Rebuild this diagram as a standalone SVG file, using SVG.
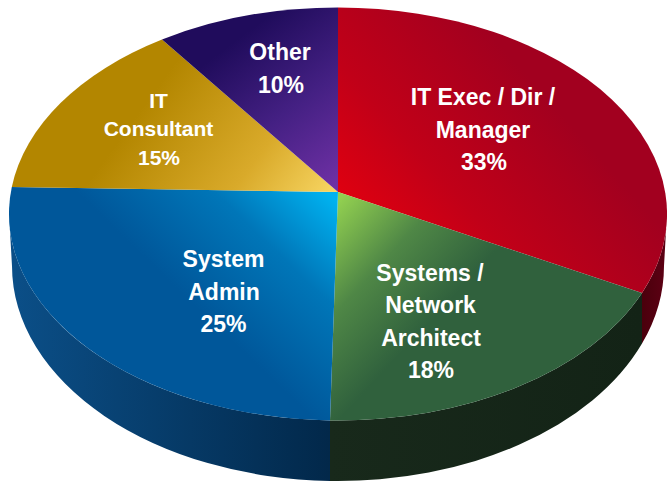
<svg xmlns="http://www.w3.org/2000/svg" width="667" height="482" viewBox="0 0 667 482">
  <defs>
    <style>
      .lbl { font-family: "Liberation Sans", Arial, sans-serif; font-weight: bold; font-size: 23px; fill: #ffffff; text-anchor: middle; }
      .sm { font-size: 21px; }
    </style>
    <linearGradient id="gRed" gradientUnits="userSpaceOnUse" x1="360" y1="250" x2="540" y2="90">
      <stop offset="0" stop-color="#e6000e"/>
      <stop offset="0.45" stop-color="#c10018"/>
      <stop offset="1" stop-color="#a2001f"/>
    </linearGradient>
    <linearGradient id="gPur" gradientUnits="userSpaceOnUse" x1="335" y1="185" x2="230" y2="45">
      <stop offset="0" stop-color="#6e30a4"/>
      <stop offset="0.5" stop-color="#442083"/>
      <stop offset="1" stop-color="#200c5c"/>
    </linearGradient>
    <linearGradient id="gYel" gradientUnits="userSpaceOnUse" x1="335" y1="190" x2="170" y2="70">
      <stop offset="0" stop-color="#f7d562"/>
      <stop offset="0.4" stop-color="#d9aa2a"/>
      <stop offset="1" stop-color="#b38600"/>
    </linearGradient>
    <linearGradient id="gBlu" gradientUnits="userSpaceOnUse" x1="330" y1="195" x2="210" y2="320">
      <stop offset="0" stop-color="#00b2f0"/>
      <stop offset="0.45" stop-color="#0076b8"/>
      <stop offset="1" stop-color="#00579a"/>
    </linearGradient>
    <linearGradient id="gGrn" gradientUnits="userSpaceOnUse" x1="340" y1="198" x2="450" y2="300">
      <stop offset="0" stop-color="#92d050"/>
      <stop offset="0.5" stop-color="#4f8746"/>
      <stop offset="1" stop-color="#30613d"/>
    </linearGradient>
    <linearGradient id="sBlu" gradientUnits="userSpaceOnUse" x1="10" y1="0" x2="330" y2="0">
      <stop offset="0" stop-color="#0b4f88"/>
      <stop offset="1" stop-color="#02284a"/>
    </linearGradient>
    <linearGradient id="sGrn" gradientUnits="userSpaceOnUse" x1="330" y1="0" x2="642" y2="0">
      <stop offset="0" stop-color="#18291b"/>
      <stop offset="1" stop-color="#132316"/>
    </linearGradient>
    <linearGradient id="sRed" gradientUnits="userSpaceOnUse" x1="642" y1="0" x2="667" y2="0">
      <stop offset="0" stop-color="#4a000c"/>
      <stop offset="1" stop-color="#5e0014"/>
    </linearGradient>
  </defs>

  <g id="sides">
    <path id="side-blue" fill="url(#sBlu)" d="M9,214 L12,266 A326,215 0 0 0 330,480.9 L330,420.4 A329,206.5 0 0 1 9,214 Z"/>
    <path id="side-green" fill="url(#sGrn)" d="M330,420.4 L330,480.9 A326,215 0 0 0 642,343.6 L642,293 A329,206.5 0 0 1 330,420.4 Z"/>
    <path id="side-red" fill="url(#sRed)" d="M642,293 L642,343.6 A326,215 0 0 0 664,266 L667,214 A329,206.5 0 0 1 642,293 Z"/>
  </g>

  <g id="slice-it-exec">
    <path fill="url(#gRed)" d="M338,192 L338,7.5 A329,206.5 0 0 1 642,293 Z"/>
    <text class="lbl" x="483" y="105">IT Exec / Dir /</text>
    <text class="lbl" x="483" y="137.5">Manager</text>
    <text class="lbl" x="484" y="170">33%</text>
  </g>

  <g id="slice-systems-network">
    <path fill="url(#gGrn)" d="M338,192 L642,293 A329,206.5 0 0 1 330,420.4 Z"/>
    <text class="lbl" x="430" y="281">Systems /</text>
    <text class="lbl" x="430.5" y="313">Network</text>
    <text class="lbl" x="431" y="345.5">Architect</text>
    <text class="lbl" x="431" y="378">18%</text>
  </g>

  <g id="slice-system-admin">
    <path fill="url(#gBlu)" d="M338,192 L330,420.4 A329,206.5 0 0 1 11.8,187 Z"/>
    <text class="lbl" x="223.5" y="267">System</text>
    <text class="lbl" x="224" y="299.5">Admin</text>
    <text class="lbl" x="223.5" y="332">25%</text>
  </g>

  <g id="slice-it-consultant">
    <path fill="url(#gYel)" d="M338,192 L11.8,187 A329,206.5 0 0 1 162,39.5 Z"/>
    <text class="lbl sm" x="158.5" y="107.5">IT</text>
    <text class="lbl sm" x="158.5" y="136">Consultant</text>
    <text class="lbl sm" x="159" y="164.5">15%</text>
  </g>

  <g id="slice-other">
    <path fill="url(#gPur)" d="M338,192 L162,39.5 A329,206.5 0 0 1 338,7.5 Z"/>
    <text class="lbl" x="280" y="60">Other</text>
    <text class="lbl" x="281" y="93">10%</text>
  </g>
</svg>
